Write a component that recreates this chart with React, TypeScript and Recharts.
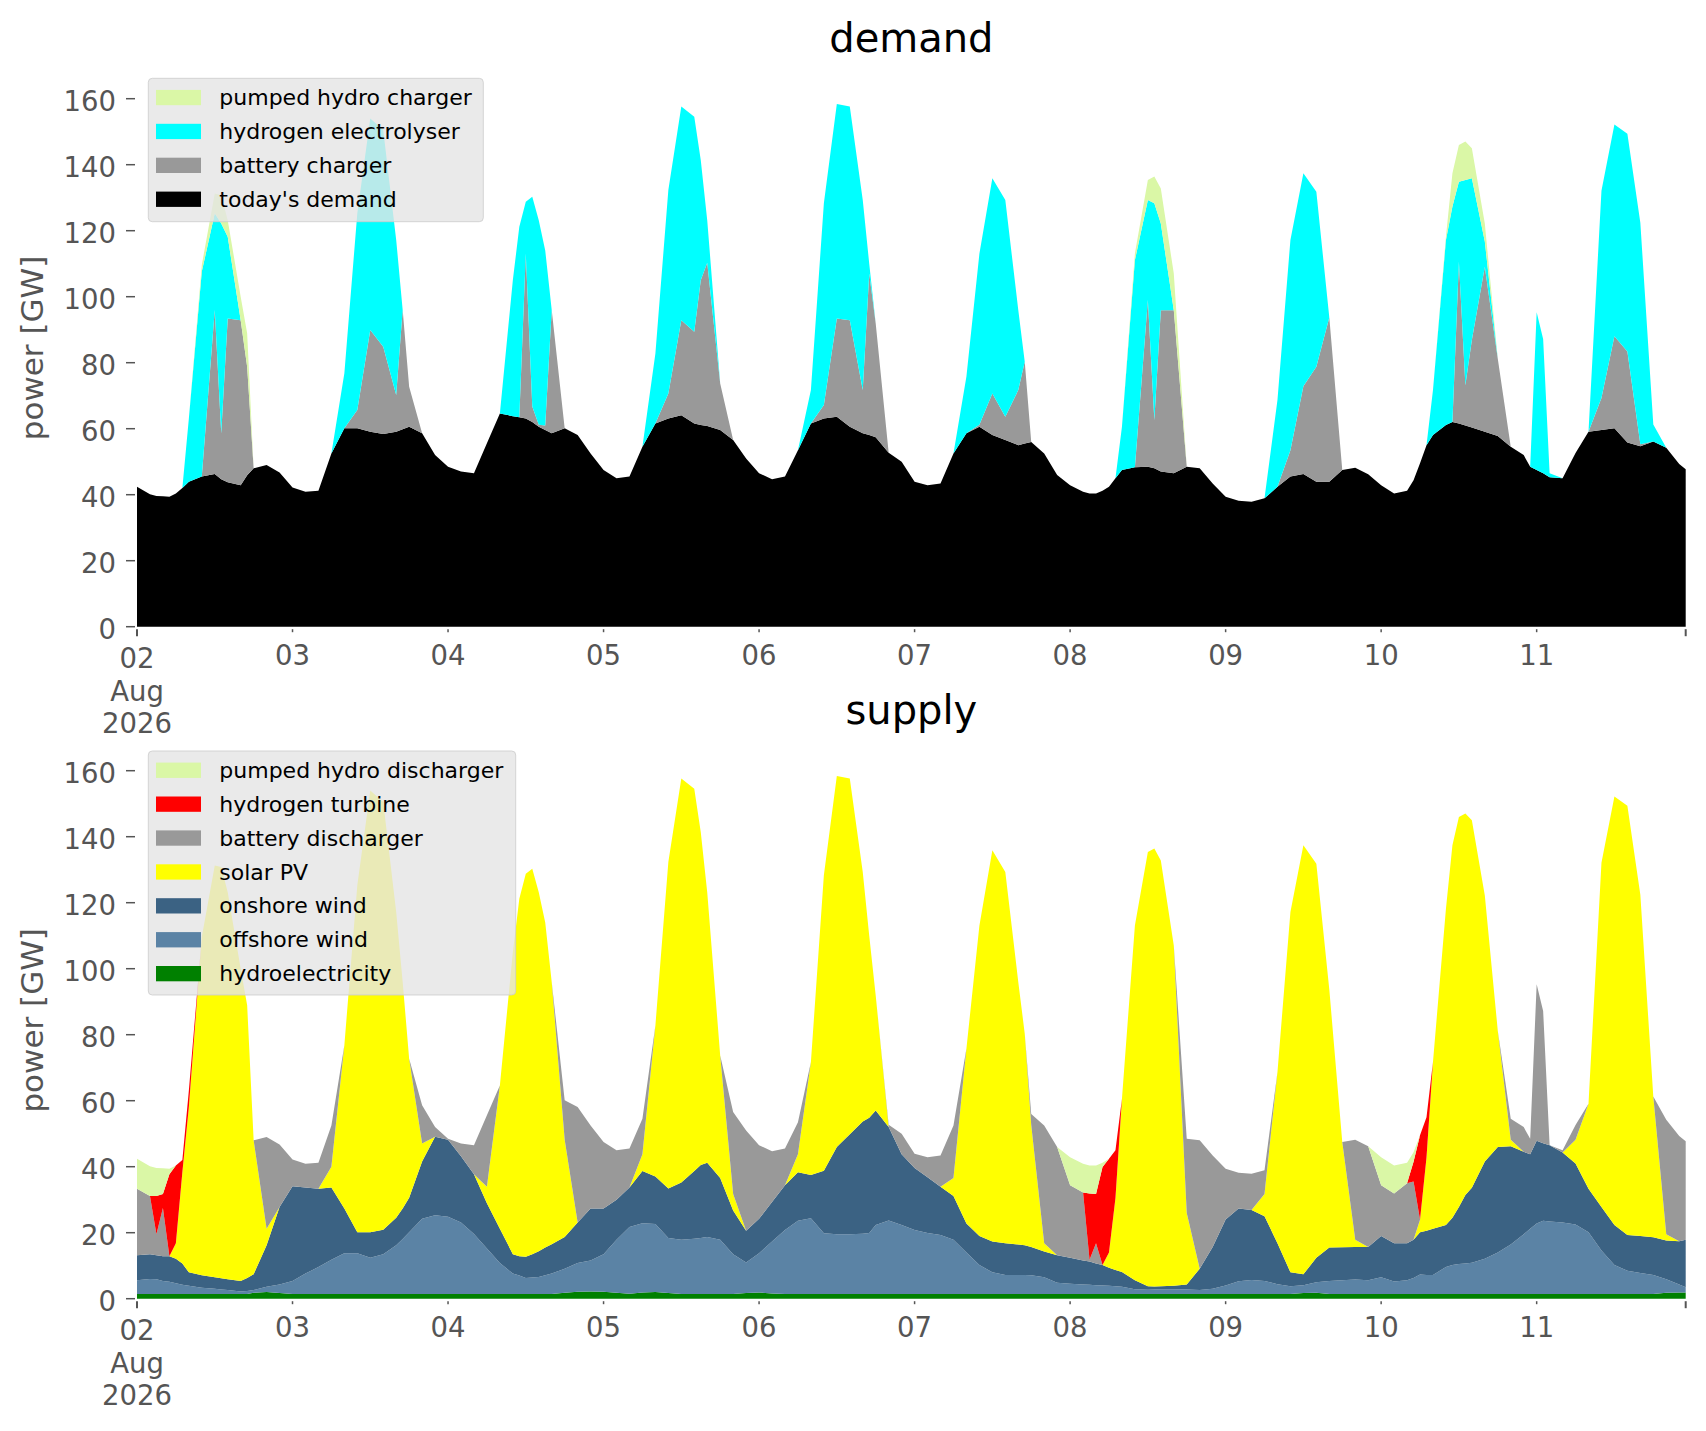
import { AreaChart, Area, XAxis, YAxis } from "recharts";

// hours since 02 Aug 2026 00:00 (two-hourly, plus a few odd hours at sharp features)
const hours = [
  0, 2, 3, 4, 5, 6, 7, 8, 10, 12, 13, 14, 16, 17, 18, 20, 22,
  24, 26, 28, 30, 32, 34, 36, 38, 40, 41, 42, 44, 46,
  48, 50, 52, 54, 56, 58, 59, 60, 61, 62, 63, 64, 66, 68, 70,
  72, 74, 76, 78, 80, 82, 84, 86, 87, 88, 90, 92, 94,
  96, 98, 100, 102, 104, 106, 108, 110, 112, 113, 114, 116, 118,
  120, 122, 124, 126, 128, 130, 132, 134, 136, 137, 138, 140, 142,
  144, 146, 147, 148, 149, 150, 151, 152, 154, 156, 157, 158, 160, 162, 164, 166,
  168, 170, 172, 174, 176, 178, 180, 182, 184, 186, 188, 190,
  192, 194, 196, 197, 198, 199, 200, 202, 203, 204, 205, 206, 208, 210, 212, 214, 215,
  216, 217, 218, 220, 222, 224, 226, 228, 230, 232, 234, 236, 238, 239,
];

// ---- demand side (GW) ----
const todaysDemand = [
  42.4, 40.1, 39.6, 39.5, 39.4, 40.4, 42, 43.9, 45.5, 46.3, 44.7, 43.8, 42.9, 45.9, 48, 49, 46.7,
  42.2, 40.9, 41.2, 52.5, 60.1, 60.1, 59.1, 58.4, 59.1, 59.8, 60.6, 58.6, 52,
  48.5, 47, 46.5, 55.6, 64.6, 63.8, 63.5, 63.1, 62, 60.6, 59.6, 58.6, 60.1, 58.1, 52.5,
  47.5, 45, 45.5, 54.5, 61.6, 63.1, 64.1, 61.6, 61.1, 60.8, 59.6, 56.6, 51,
  46.5, 44.7, 45.5, 53.5, 61.6, 63.1, 63.6, 60.6, 58.6, 58.1, 57.4, 52.7, 50,
  43.9, 42.9, 43.4, 52.5, 58.6, 60.6, 58.1, 56.6, 55, 55.5, 56, 52.5, 46,
  42.9, 40.9, 40.4, 40.4, 41.2, 42.4, 45, 47.5, 48.3, 48.5, 48, 47, 46.5, 48.5, 48, 43.4,
  39.4, 38.2, 37.9, 38.9, 42.4, 45.5, 46.3, 43.9, 43.9, 47.5, 48.2, 46.2,
  42.9, 40.4, 41.2, 44.4, 49.5, 55, 58.1, 61.1, 62, 61.6, 61, 60.4, 59.1, 57.8, 54.5, 52, 48.5,
  47.5, 46.5, 45.3, 45, 52.6, 59.1, 59.6, 60.1, 55.8, 54.7, 56.1, 54.2, 49.3, 47.7,
];

const batteryCharger = [
  0, 0, 0, 0, 0, 0, 0, 0, 0, 49.7, 13.9, 49.6, 50, 32.9, 0, 0, 0,
  0, 0, 0, 0, 0, 5.6, 30.8, 26.4, 11.1, 36.2, 12.1, 0, 0,
  0, 0, 0, 0, 0, 0, 0, 49.9, 4.7, 0.6, 1.4, 37.4, 0, 0, 0,
  0, 0, 0, 0, 0, 7.6, 28.8, 27.8, 43.9, 49.5, 14.1, 0, 0,
  0, 0, 0, 0, 0, 4.1, 29.8, 32.3, 13.1, 48.9, 34.5, 0, 0,
  0, 0, 0, 0, 0, 0.6, 12.6, 7, 16.7, 24.8, 0, 0, 0,
  0, 0, 0, 0, 0, 0, 0, 0, 0, 50.5, 14.6, 48.9, 49.4, 0, 0, 0,
  0, 0, 0, 0, 0, 8, 26.6, 34.9, 49.8, 0, 0, 0,
  0, 0, 0, 0, 0, 0, 0, 0, 0, 49, 12.2, 26.5, 50, 23.4, 0, 0, 0,
  0, 0, 0, 0, 0, 0, 9.7, 27.9, 27.6, 0.6, 0, 0, 0, 0,
];

const hydrogenElectrolyser = [
  0, 0, 0, 0, 0, 0, 0, 19.1, 62.1, 29.3, 63.6, 24.8, 0, 0, 0, 0, 0,
  0, 0, 0, 0, 16.7, 59.6, 64.1, 65.7, 47, 0, 0, 0, 0,
  0, 0, 0, 0, 0, 41.2, 57.7, 15.8, 63.6, 62, 53, 0, 0, 0, 0,
  0, 0, 0, 0, 21.2, 61.6, 64.7, 65.1, 36.4, 12.9, 0, 0, 0,
  0, 0, 0, 0, 10.1, 61.1, 65, 64.7, 57.6, 3, 0, 0, 0,
  0, 0, 0, 0, 17.2, 51.8, 65.2, 65.7, 24.3, 0, 0, 0, 0,
  0, 0, 0, 0, 0, 0, 0, 13.1, 62.8, 30.3, 65.7, 26.3, 0, 0, 0, 0,
  0, 0, 0, 0, 26.3, 63.7, 64.5, 53, 0, 0, 0, 0,
  0, 0, 0, 0, 0, 0, 13.6, 56.1, 65.3, 24.2, 62.2, 49, 7.6, 0, 0, 0, 0,
  47.8, 40.7, 1.2, 0, 0, 0, 62.8, 64.2, 66, 67.1, 5.2, 0, 0, 0,
];

const pumpedHydroCharger = [
  0, 0, 0, 0, 0, 0, 0, 0, 2, 6, 8.6, 5, 7.1, 10.1, 0, 0, 0,
  0, 0, 0, 0, 0, 0, 0, 0, 0, 0, 0, 0, 0,
  0, 0, 0, 0, 0, 0, 0, 0, 0, 0, 0, 0, 0, 0, 0,
  0, 0, 0, 0, 0, 0, 0, 0, 0, 0, 0, 0, 0,
  0, 0, 0, 0, 0, 0, 0, 0, 0, 0, 0, 0, 0,
  0, 0, 0, 0, 0, 0, 0, 0, 0, 0, 0, 0, 0,
  0, 0, 0, 0, 0, 0, 0, 0, 2, 6.1, 8.1, 10.6, 11.1, 0, 0, 0,
  0, 0, 0, 0, 0, 0, 0, 0, 0, 0, 0, 0,
  0, 0, 0, 0, 0, 0, 0, 1, 10.1, 11.2, 11.6, 9.1, 5.5, 0, 0, 0, 0,
  0, 0, 0, 0, 0, 0, 0, 0, 0, 0, 0, 0, 0, 0,
];

// ---- supply side (GW) ----
const hydroelectricity = [
  1.4, 1.4, 1.4, 1.4, 1.4, 1.4, 1.4, 1.4, 1.4, 1.4, 1.4, 1.4, 1.4, 1.4, 1.8, 2.0, 1.7,
  1.4, 1.4, 1.4, 1.4, 1.4, 1.4, 1.4, 1.4, 1.4, 1.4, 1.4, 1.4, 1.4,
  1.4, 1.4, 1.4, 1.4, 1.4, 1.4, 1.4, 1.4, 1.4, 1.4, 1.4, 1.4, 1.8, 2.1, 2.2,
  2.1, 1.8, 1.5, 1.9, 2.0, 1.7, 1.4, 1.4, 1.4, 1.4, 1.4, 1.4, 1.7,
  1.9, 1.6, 1.4, 1.4, 1.4, 1.4, 1.4, 1.4, 1.4, 1.4, 1.4, 1.4, 1.4,
  1.4, 1.4, 1.4, 1.4, 1.4, 1.4, 1.4, 1.4, 1.4, 1.4, 1.4, 1.4, 1.4,
  1.4, 1.4, 1.4, 1.4, 1.4, 1.4, 1.4, 1.4, 1.4, 1.4, 1.4, 1.4, 1.4, 1.4, 1.4, 1.4,
  1.4, 1.4, 1.4, 1.4, 1.4, 1.4, 1.7, 1.8, 1.4, 1.4, 1.4, 1.4,
  1.4, 1.4, 1.4, 1.4, 1.4, 1.4, 1.4, 1.4, 1.4, 1.4, 1.4, 1.4, 1.4, 1.4, 1.4, 1.4, 1.4,
  1.4, 1.4, 1.4, 1.4, 1.4, 1.4, 1.4, 1.4, 1.4, 1.4, 1.4, 1.8, 1.9, 1.9,
];

const offshoreWind = [
  4.2, 4.6, 4.5, 4.0, 3.7, 3.3, 2.8, 2.5, 1.9, 1.6, 1.4, 1.2, 0.8, 0.9, 0.8, 1.6, 2.6,
  4.0, 6.2, 8.2, 10.4, 12.4, 12.4, 11, 12.1, 14.8, 16.7, 18.7, 22.8, 23.9,
  23.4, 21.7, 18.2, 13.8, 9.4, 6.2, 5.6, 4.9, 5, 5.2, 5.7, 6.2, 7.3, 8.7, 9.4,
  11.4, 16.1, 20.2, 21, 20.6, 16.7, 16.5, 16.8, 17, 17.3, 16.5, 12.1, 9.3,
  11.9, 15.7, 19.4, 22.2, 23, 18.4, 18.1, 18.1, 18.3, 18.5, 20.9, 22.3, 20.9,
  19.4, 18.5, 17.9, 16.5, 12.6, 8.8, 6.6, 5.8, 5.8, 5.8, 5.7, 5.1, 3.4,
  3.1, 2.9, 2.8, 2.7, 2.6, 2.5, 2.4, 2.2, 1.5, 1.3, 1.4, 1.5, 1.5, 1.4, 1.2, 1.6,
  2.6, 3.9, 4.3, 4, 3, 2.4, 2.4, 3.2, 4, 4.2, 4.4, 4.2,
  5.1, 3.8, 4.2, 4.9, 5.9, 5.8, 5.8, 8.2, 8.8, 9.1, 9.3, 9.5, 10.7, 12.6, 15, 18.1, 19.8,
  21.4, 22.2, 22, 21.7, 21.1, 18.7, 13.2, 8.8, 7.1, 6.4, 5.8, 4.1, 2.4, 1.6,
];

const onshoreWind = [
  7.6, 7.5, 7.3, 7.5, 7.8, 7.4, 6.5, 4.1, 3.8, 3.5, 3.4, 3.3, 3.2, 4, 4.8, 12.6, 23.5,
  28.7, 26.1, 23.7, 21.9, 13.5, 6.3, 7.7, 7.4, 8.3, 9.2, 10.5, 17.4, 23.8,
  23.4, 20.1, 18.1, 13.7, 10.4, 5.9, 5.9, 6.4, 7.1, 7.8, 8.4, 8.9, 9.6, 12.3, 15.7,
  13.8, 12.1, 12, 15.8, 14.4, 15, 17.3, 20.5, 22.1, 22.5, 18.7, 13.2, 9.6,
  10.4, 12, 13.6, 14.7, 13.1, 19, 26.5, 30.3, 34, 34.9, 34.7, 28.3, 21.5,
  18.8, 16.9, 14.6, 13.2, 8.8, 8.8, 9.3, 9.6, 9.2, 9, 8.6, 7.8, 8.4,
  7.9, 7.3, 7.1, 6.6, 6.2, 5.5, 4.9, 4.5, 2.7, 1.1, 0.9, 0.9, 1.0, 1.5, 6.5, 12.7,
  20, 22, 21.2, 19.6, 12.4, 4.2, 3.3, 7.4, 10.1, 10, 9.9, 10.1,
  12.5, 11.6, 11.2, 11.6, 12.8, 13.4, 14, 12.7, 14.3, 17.3, 20.7, 22.7, 29.5, 32, 29.8, 25, 22.6,
  25.1, 23.5, 23.1, 21.2, 18.5, 13.2, 13.2, 12.1, 10.8, 11.2, 11.4, 11.7, 13.1, 14.4,
];

const solarPV = [
  0, 0, 0, 0, 0, 4.7, 27.6, 50, 102.5, 124.8, 124.6, 117.3, 94.6, 82.6, 40.6, 5, 0,
  0, 0, 0, 6.3, 49.5, 105.2, 133.9, 129.6, 92.7, 68.7, 42.1, 5.4, 0,
  0, 0, 0, 5, 43.4, 91.5, 108.3, 116.1, 116.8, 108.8, 98.5, 79.5, 29.5, 0, 0,
  0, 0, 0, 5.1, 45.8, 98.9, 122.4, 115.8, 100.9, 82, 37.1, 5, 0,
  0, 0, 0, 5.5, 34.2, 89.5, 112.4, 107.8, 75.6, 55.2, 34.9, 0, 0,
  0, 0, 0, 5.5, 53, 94, 118.6, 112.5, 79.6, 64.1, 36.9, 2.5, 0,
  0, 0, 0, 0, 0, 4.6, 21.8, 52.5, 107.5, 131.6, 132.7, 129, 103.1, 21.7, 0, 0,
  0, 0, 0, 6.7, 51.9, 109.2, 130, 119.4, 78.2, 31.9, 2.2, 0,
  0, 0, 0, 0, 3.8, 22.2, 50.5, 95.9, 112.9, 118.2, 115.6, 111.4, 80.6, 35.2, 2, 0, 0,
  0, 0, 0, 0, 7.2, 25.8, 104.3, 129.9, 130.1, 103.4, 42.7, 1.9, 0, 0,
];

const batteryDischarger = [
  20.1, 17.6, 6.3, 14.6, 0, 0, 0, 0, 0, 0, 0, 0, 0, 0, 0, 27.8, 18.9,
  8.1, 7.2, 7.9, 12.5, 0, 0, 0, 0, 0, 0, 0, 11.6, 2.9,
  0.3, 3.8, 8.8, 21.7, 0, 0, 0, 0, 0, 0, 0, 0, 11.9, 35, 25.2,
  20.2, 15, 11.8, 10.7, 0, 0, 0, 0, 0, 0, 0, 24.9, 30.4,
  22.3, 15.4, 11.1, 9.7, 0, 0, 0, 0, 0, 0, 0, 0.7, 6.2,
  4.3, 6.1, 9.5, 15.9, 0, 0, 0, 0, 0, 0, 3.4, 35.7, 32.8,
  22, 20.6, 0.5, 6.1, 0, 0, 0, 0, 0, 0, 0, 0, 0, 22.5, 38.9, 27.7,
  15.4, 10.9, 11, 7.2, 0, 0, 0, 0, 0, 0, 30.3, 30.5,
  15.4, 15.1, 18.2, 17.6, 0, 0, 0, 0, 0, 0, 0, 0, 0, 0, 6.3, 7.5, 4.7,
  47.4, 40.1, 0, 0.7, 4.4, 0, 0, 0, 0, 0, 0, 34.7, 31.9, 29.8,
];

const hydrogenTurbine = [
  0, 0, 11.6, 4.2, 24.8, 23.6, 3.7, 5, 0, 0, 0, 0, 0, 0, 0, 0, 0,
  0, 0, 0, 0, 0, 0, 0, 0, 0, 0, 0, 0, 0,
  0, 0, 0, 0, 0, 0, 0, 0, 0, 0, 0, 0, 0, 0, 0,
  0, 0, 0, 0, 0, 0, 0, 0, 0, 0, 0, 0, 0,
  0, 0, 0, 0, 0, 0, 0, 0, 0, 0, 0, 0, 0,
  0, 0, 0, 0, 0, 0, 0, 0, 0, 0, 0, 0, 0,
  0, 0, 20.1, 14.9, 29.7, 28.4, 14.5, 0, 0, 0, 0, 0, 0, 0, 0, 0,
  0, 0, 0, 0, 0, 0, 0, 0, 0, 0, 0, 0,
  0, 0, 0, 6, 25.6, 12.2, 0, 0, 0, 0, 0, 0, 0, 0, 0, 0, 0,
  0, 0, 0, 0, 0, 0, 0, 0, 0, 0, 0, 0, 0, 0,
];

const pumpedHydroDischarger = [
  9.1, 9, 8.5, 7.8, 1.7, 0, 0, 0, 0, 0, 0, 0, 0, 0, 0, 0, 0,
  0, 0, 0, 0, 0, 0, 0, 0, 0, 0, 0, 0, 0,
  0, 0, 0, 0, 0, 0, 0, 0, 0, 0, 0, 0, 0, 0, 0,
  0, 0, 0, 0, 0, 0, 0, 0, 0, 0, 0, 0, 0,
  0, 0, 0, 0, 0, 0, 0, 0, 0, 0, 0, 0, 0,
  0, 0, 0, 0, 0, 0, 0, 0, 0, 0, 0, 0, 0,
  8.5, 8.7, 8.5, 8.7, 1.3, 0, 0, 0, 0, 0, 0, 0, 0, 0, 0, 0,
  0, 0, 0, 0, 0, 0, 0, 0, 0, 0, 0, 0,
  8.5, 8.5, 6.2, 2.9, 0, 0, 0, 0, 0, 0, 0, 0, 0, 0, 0, 0, 0,
  0, 0, 0, 0, 0, 0, 0, 0, 0, 0, 0, 0, 0, 0,
];

// axis ticks
const dayTicks = [0, 24, 48, 72, 96, 120, 144, 168, 192, 216, 239];
const dayLabels = ["02", "03", "04", "05", "06", "07", "08", "09", "10", "11", ""];
const powerTicks = [0, 20, 40, 60, 80, 100, 120, 140, 160];

const FONT = "DejaVu Sans, Verdana, sans-serif";
const GREY = "#555555";

const demandSeries = [
  { key: "demand", name: "today's demand", color: "#000000" },
  { key: "battery", name: "battery charger", color: "#999999" },
  { key: "electrolyser", name: "hydrogen electrolyser", color: "#00ffff" },
  { key: "pumped", name: "pumped hydro charger", color: "#daf7a6" },
];

const supplySeries = [
  { key: "hydro", name: "hydroelectricity", color: "#008000" },
  { key: "offshore", name: "offshore wind", color: "#5b83a5" },
  { key: "onshore", name: "onshore wind", color: "#3b6283" },
  { key: "solar", name: "solar PV", color: "#ffff00" },
  { key: "battery", name: "battery discharger", color: "#999999" },
  { key: "turbine", name: "hydrogen turbine", color: "#ff0000" },
  { key: "pumped", name: "pumped hydro discharger", color: "#daf7a6" },
];

const demandRows = hours.map((h, i) => ({
  h,
  demand: todaysDemand[i],
  battery: batteryCharger[i],
  electrolyser: hydrogenElectrolyser[i],
  pumped: pumpedHydroCharger[i],
}));

const supplyRows = hours.map((h, i) => ({
  h,
  hydro: hydroelectricity[i],
  offshore: offshoreWind[i],
  onshore: onshoreWind[i],
  solar: solarPV[i],
  battery: batteryDischarger[i],
  turbine: hydrogenTurbine[i],
  pumped: pumpedHydroDischarger[i],
}));

function DayTick(props: any) {
  const { x, y, payload } = props;
  const i = dayTicks.indexOf(payload.value);
  const major = i === 0 || i === dayTicks.length - 1;
  const textProps = { textAnchor: "middle" as const, fontSize: 27.5, fill: GREY, fontFamily: FONT };
  return (
    <g>
      <line
        x1={x}
        x2={x}
        y1={y + 2.5}
        y2={y + (major ? 9.5 : 5.5)}
        stroke={GREY}
        strokeWidth={major ? 2 : 1.5}
      />
      {i === 0 ? (
        <text {...textProps}>
          <tspan x={x} y={y + 41.6}>02</tspan>
          <tspan x={x} y={y + 74.7}>Aug</tspan>
          <tspan x={x} y={y + 106.6}>2026</tspan>
        </text>
      ) : (
        <text x={x} y={y + 38.3} {...textProps}>
          {dayLabels[i]}
        </text>
      )}
    </g>
  );
}

function PowerTick(props: any) {
  const { x, y, payload } = props;
  return (
    <g>
      <line x1={x - 11} x2={x - 2} y1={y} y2={y} stroke={GREY} strokeWidth={1.5} />
      <text x={x - 21} y={y + 12.2} textAnchor="end" fontSize={27.5} fill={GREY} fontFamily={FONT}>
        {payload.value}
      </text>
    </g>
  );
}

type Series = { key: string; name: string; color: string };

function StackChart({ rows, series, height }: { rows: any[]; series: Series[]; height: number }) {
  return (
    <AreaChart
      width={1706}
      height={height}
      data={rows}
      margin={{ top: 65.7, right: 20.3, bottom: 0, left: 0 }}
    >
      <XAxis
        type="number"
        dataKey="h"
        domain={[0, 239]}
        ticks={dayTicks}
        interval={0}
        height={height - 626.7}
        tickSize={0}
        tickMargin={0}
        tickLine={false}
        axisLine={false}
        tick={(p: any) => <DayTick {...p} />}
      />
      <YAxis
        type="number"
        domain={[0, 170]}
        ticks={powerTicks}
        interval={0}
        width={137}
        tickSize={0}
        tickMargin={0}
        tickLine={false}
        axisLine={false}
        tick={(p: any) => <PowerTick {...p} />}
      />
      {series.map((s) => (
        <Area
          key={s.key}
          type="linear"
          dataKey={s.key}
          name={s.name}
          stackId="stack"
          stroke="none"
          fill={s.color}
          fillOpacity={1}
          dot={false}
          activeDot={false}
          isAnimationActive={false}
        />
      ))}
    </AreaChart>
  );
}

function LegendBox({ x, y, w, h, items }: { x: number; y: number; w: number; h: number; items: Series[] }) {
  return (
    <g>
      <rect
        x={x}
        y={y}
        width={w}
        height={h}
        rx={4}
        fill="#e5e5e5"
        fillOpacity={0.8}
        stroke="#cccccc"
        strokeOpacity={0.8}
        strokeWidth={1}
      />
      {items.map((it, i) => {
        const cy = y + 19.2 + i * 33.9;
        return (
          <g key={it.name}>
            <rect x={x + 7.7} y={cy - 7.6} width={45} height={15.3} fill={it.color} />
            <text x={x + 71} y={cy + 7.6} fontSize={22} fill="#000" fontFamily={FONT}>
              {it.name}
            </text>
          </g>
        );
      })}
    </g>
  );
}

export default function App() {
  const shift = 672.3;
  return (
    <div
      style={{
        position: "fixed",
        left: 0,
        top: 0,
        width: 1706,
        height: 1431,
        overflow: "hidden",
        background: "#ffffff",
      }}
    >
      <div style={{ position: "absolute", left: 0, top: 0 }}>
        <StackChart rows={demandRows} series={demandSeries} height={760} />
      </div>
      <div style={{ position: "absolute", left: 0, top: shift }}>
        <StackChart rows={supplyRows} series={supplySeries} height={758} />
      </div>
      <svg
        width={1706}
        height={1431}
        style={{ position: "absolute", left: 0, top: 0, pointerEvents: "none" }}
      >
        <text x={911.4} y={51.7} textAnchor="middle" fontSize={40} fill="#000" fontFamily={FONT}>
          demand
        </text>
        <text x={911.4} y={51.7 + shift} textAnchor="middle" fontSize={40} fill="#000" fontFamily={FONT}>
          supply
        </text>
        <text
          transform="translate(43.3 348) rotate(-90)"
          textAnchor="middle"
          fontSize={31}
          fill={GREY}
          fontFamily={FONT}
        >
          power [GW]
        </text>
        <text
          transform={`translate(43.3 ${348 + shift}) rotate(-90)`}
          textAnchor="middle"
          fontSize={31}
          fill={GREY}
          fontFamily={FONT}
        >
          power [GW]
        </text>
        <LegendBox x={148.3} y={78.3} w={335} h={143.4} items={[...demandSeries].reverse()} />
        <LegendBox x={148.3} y={751} w={367.4} h={244} items={[...supplySeries].reverse()} />
      </svg>
    </div>
  );
}
